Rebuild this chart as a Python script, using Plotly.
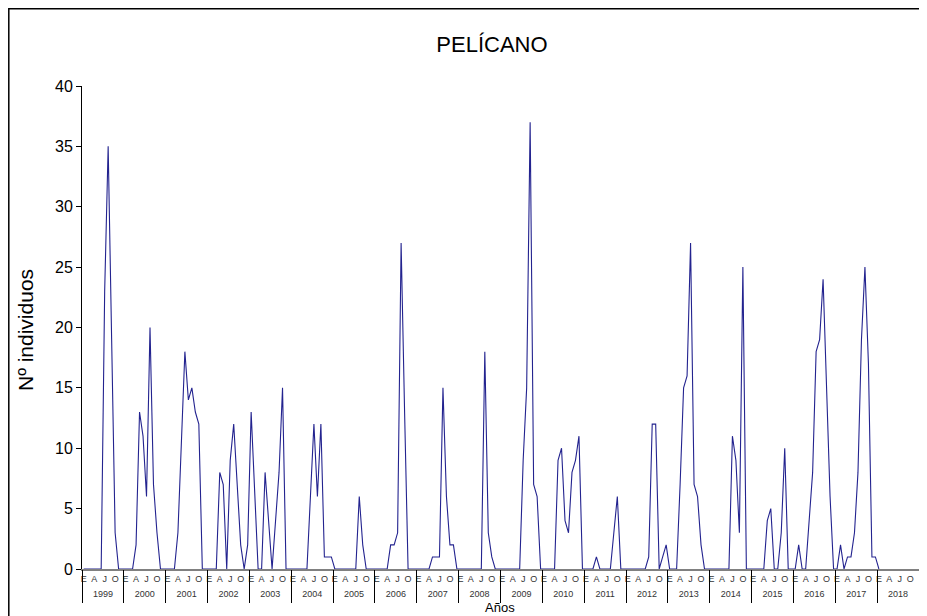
import plotly.graph_objects as go

# ---- data (monthly counts, Jan 1999 .. Jan 2018) ----
years = [str(y) for y in range(1999, 2019)]
month_letters = ["E", "A", "J", "O"]
month_letter_idx = [0, 3, 6, 9]

v1999 = [0, 0, 0, 0, 0, 0, 23, 35, 19, 3, 0, 0]
v2000 = [0, 0, 0, 2, 13, 11, 6, 20, 7, 3, 0, 0]
v2001 = [0, 0, 0, 3, 10, 18, 14, 15, 13, 12, 0, 0]
v2002 = [0, 0, 0, 8, 7, 0, 9, 12, 7, 2, 0, 2]
v2003 = [13, 6, 0, 0, 8, 4, 0, 4, 8, 15, 0, 0]
v2004 = [0, 0, 0, 0, 0, 6, 12, 6, 12, 1, 1, 1]
v2005 = [0, 0, 0, 0, 0, 0, 0, 6, 2, 0, 0, 0]
v2006 = [0, 0, 0, 0, 2, 2, 3, 27, 13, 0, 0, 0]
v2007 = [0, 0, 0, 0, 1, 1, 1, 15, 6, 2, 2, 0]
v2008 = [0, 0, 0, 0, 0, 0, 0, 18, 3, 1, 0, 0]
v2009 = [0, 0, 0, 0, 0, 0, 9, 15, 37, 7, 6, 0]
v2010 = [0, 0, 0, 0, 9, 10, 4, 3, 8, 9, 11, 0]
v2011 = [0, 0, 0, 1, 0, 0, 0, 0, 3, 6, 0, 0]
v2012 = [0, 0, 0, 0, 0, 0, 1, 12, 12, 0, 1, 2]
v2013 = [0, 0, 0, 7, 15, 16, 27, 7, 6, 2, 0, 0]
v2014 = [0, 0, 0, 0, 0, 0, 11, 9, 3, 25, 0, 0]
v2015 = [0, 0, 0, 0, 4, 5, 0, 0, 3, 10, 0, 0]
v2016 = [0, 2, 0, 0, 4, 8, 18, 19, 24, 15, 6, 0]
v2017 = [0, 2, 0, 1, 1, 3, 8, 19, 25, 17, 1, 1]
v2018 = [0]

counts = (v1999 + v2000 + v2001 + v2002 + v2003 + v2004 + v2005 + v2006 +
          v2007 + v2008 + v2009 + v2010 + v2011 + v2012 + v2013 + v2014 +
          v2015 + v2016 + v2017 + v2018)

n_months = 12 * len(years)
x_vals = [i + 0.5 for i in range(len(counts))]

month_tickvals = [12 * k + m + 0.5 for k in range(len(years)) for m in month_letter_idx]
month_ticktext = [t for k in range(len(years)) for t in month_letters]
year_tickvals = [12 * k + 6 for k in range(len(years))]
bound_tickvals = [12 * k for k in range(len(years) + 1)]

FONT = "Liberation Sans, Arial, sans-serif"

fig = go.Figure()
fig.add_trace(go.Scatter(x=x_vals, y=counts, mode="lines",
                         line=dict(color="#23238f", width=1.1),
                         showlegend=False, hoverinfo="x+y"))
fig.add_trace(go.Scatter(x=[None], y=[None], xaxis="x2", showlegend=False, hoverinfo="skip"))
fig.add_trace(go.Scatter(x=[None], y=[None], xaxis="x3", showlegend=False, hoverinfo="skip"))

# page has an 8px body margin: the figure is sized/placed to compensate
OFF = 8
W, H = 927 - OFF, 616 - OFF
ml, mr, mt, mb = 82 - OFF, 8, 86 - OFF, 47
pw, ph = W - ml - mr, H - mt - mb

def px(xpage):
    return (xpage - OFF - ml) / pw

def py(ypage):
    return (H - mb - (ypage - OFF)) / ph

fig.update_layout(
    width=W, height=H,
    margin=dict(l=ml, r=mr, t=mt, b=mb, pad=0),
    paper_bgcolor="white", plot_bgcolor="white",
    font=dict(family=FONT, color="black"),
    title=dict(text="PELÍCANO", x=(492 - OFF) / W, y=1 - (44 - OFF) / H, xanchor="center",
               yanchor="middle", font=dict(size=22, family=FONT, color="black")),
    xaxis=dict(range=[0, n_months], tickmode="array", tickvals=month_tickvals,
               ticktext=month_ticktext, ticks="", showgrid=False, zeroline=False,
               showline=True, linecolor="#808080", linewidth=2, layer="below traces",
               tickfont=dict(size=9, color="#333333", family=FONT), fixedrange=True),
    xaxis2=dict(range=[0, n_months], overlaying="x", anchor="y", side="bottom",
                tickmode="array", tickvals=year_tickvals, ticktext=years,
                ticks="outside", ticklen=16, tickcolor="rgba(0,0,0,0)",
                showgrid=False, zeroline=False, showline=False,
                tickfont=dict(size=9, color="#333333", family=FONT)),
    xaxis3=dict(range=[0, n_months], overlaying="x", anchor="y", side="bottom",
                tickmode="array", tickvals=bound_tickvals, showticklabels=False,
                ticks="outside", ticklen=33, tickcolor="black", tickwidth=1,
                showgrid=False, zeroline=False, showline=False),
    yaxis=dict(range=[0, 40], tickmode="array", tickvals=list(range(0, 41, 5)),
               ticks="outside", ticklen=5, tickcolor="black", showline=True,
               linecolor="black", linewidth=1, showgrid=False, zeroline=False,
               tickfont=dict(size=16, family=FONT, color="black")),
    annotations=[
        dict(text="Nº individuos", xref="paper", yref="paper", x=px(25), y=py(330),
             textangle=-90, showarrow=False, xanchor="center", yanchor="middle",
             font=dict(size=21, family=FONT, color="black")),
        dict(text="Años", xref="paper", yref="paper", x=px(500), y=py(607.5),
             showarrow=False, xanchor="center", yanchor="middle", borderpad=0,
             font=dict(size=13, family=FONT, color="black")),
    ],
    shapes=[dict(type="rect", xref="paper", yref="paper",
                 x0=px(8.8), x1=px(924), y0=py(630), y1=py(8.8),
                 line=dict(color="black", width=1.5), fillcolor="rgba(0,0,0,0)")],
)

fig.write_html("out.html")
